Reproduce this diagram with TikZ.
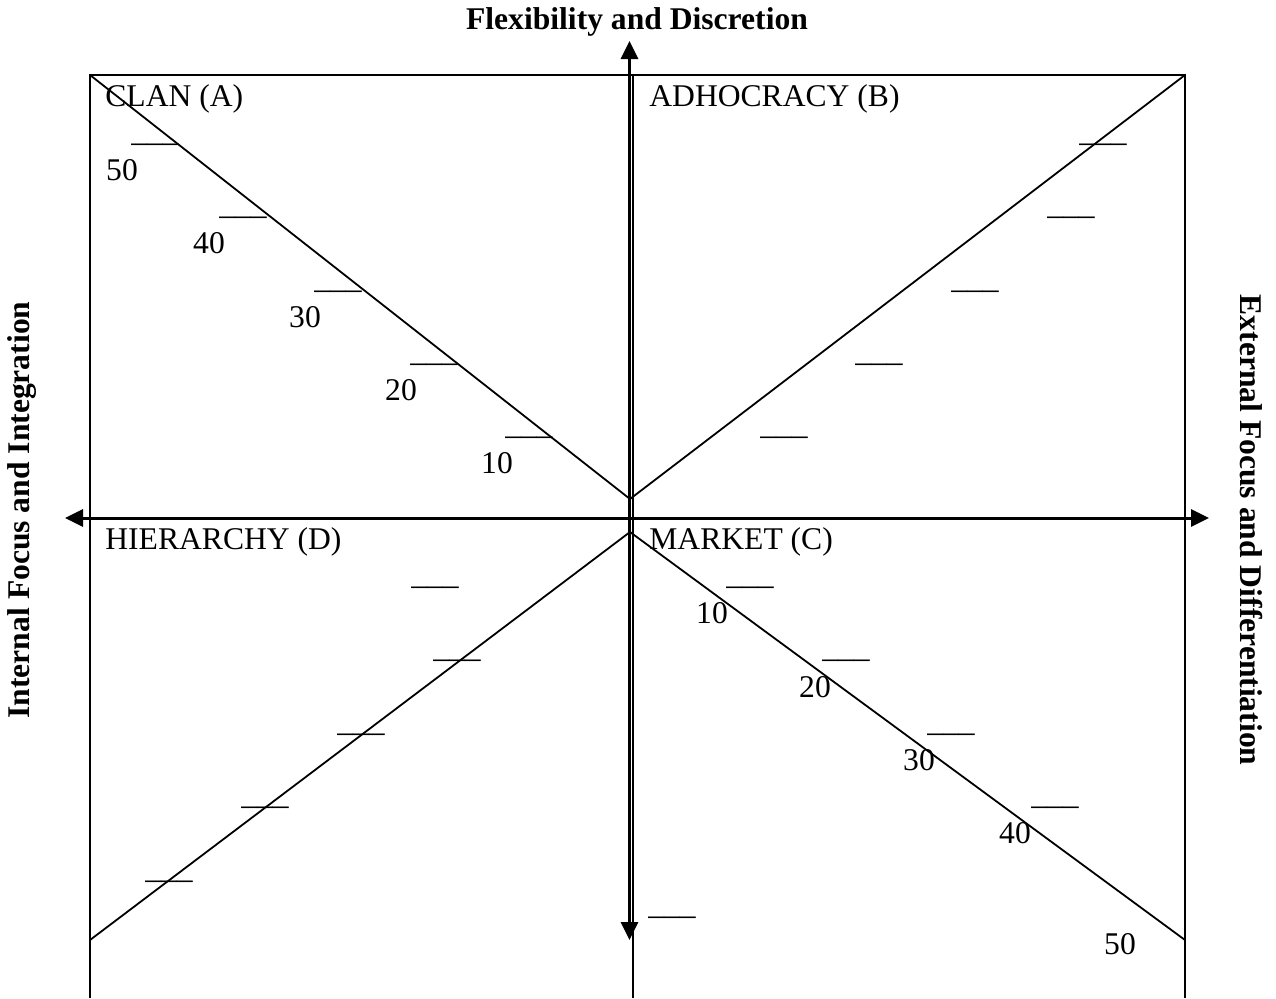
\documentclass[tikz,border=0pt]{standalone}
\usepackage{fontspec}
\setmainfont{Liberation Serif}
\usetikzlibrary{arrows.meta}
\begin{document}
\begin{tikzpicture}[x=0.5pt,y=-0.5pt,
  every node/.style={font=\fontsize{15.8}{18}\selectfont, inner sep=0pt},
  axis/.style={line width=1.5pt,{Triangle[length=9pt,width=8.5pt]}-{Triangle[length=9pt,width=8.5pt]}},
  diag/.style={line width=0.9pt},
  frame/.style={line width=0.55pt},
  blank/.style={anchor=base},
  quad/.style={anchor=west},
  title/.style={font=\fontsize{15.8}{18}\selectfont\bfseries}]
\useasboundingbox (0,0) rectangle (1276,998);

% frame
\coordinate (tl) at (90,75);
\coordinate (tm) at (633,75);
\coordinate (tr) at (1185,75);
\coordinate (bl) at (90,998);
\coordinate (bm) at (633,998);
\coordinate (br) at (1185,998);
\draw[frame] (bl) -- (tl) -- (tr) -- (br);
\draw[frame] (tm) -- (bm);

% axes
\coordinate (west) at (65,518);
\coordinate (east) at (1209,518);
\coordinate (north) at (629.5,41);
\coordinate (south) at (629.5,940);
\draw[axis] (west) -- (east);
\draw[axis] (north) -- (south);

% diagonals
\coordinate (up) at (630,499);
\coordinate (dn) at (630,532);
\coordinate (cl) at (90,75);
\coordinate (ad) at (1185,75);
\coordinate (hi) at (90,940);
\coordinate (ma) at (1185,940);
\draw[diag] (cl) -- (up) -- (ad);
\draw[diag] (hi) -- (dn) -- (ma);

% axis titles
\node[title] (flex) at (637,22) {Flexibility and Discretion};
\node[title,rotate=90] (int) at (22,510) {Internal Focus and Integration};
\node[title,rotate=-90] (ext) at (1251,530) {External Focus and Differentiation};

% quadrants
\node[quad] (clan) at (105,99) {CLAN (A)};
\node[quad] (adho) at (649,99) {ADHOCRACY (B)};
\node[quad] (hier) at (105,542) {HIERARCHY (D)};
\node[quad] (mark) at (649,542) {MARKET (C)};

% clan scale
\foreach \bx/\by/\nx/\ny/\v [count=\i] in {529/438/497/463/10, 434/365/401/390/20,
    338/292/305/317/30, 243/218/209/243/40, 155/145/122/170/50}{
  \node[blank] (cb\i) at (\bx,\by-3.5) {\_\_\_};
  \node (cn\i) at (\nx,\ny) {\v};
}

% adhocracy scale
\foreach \bx/\by [count=\i] in {784/438, 879/365, 975/292, 1071/218, 1103/145}
  \node[blank] (ab\i) at (\bx,\by-3.5) {\_\_\_};

% hierarchy scale
\foreach \bx/\by [count=\i] in {435/588, 457/661, 361/735, 265/808, 169/882}
  \node[blank] (hb\i) at (\bx,\by-3.5) {\_\_\_};

% market scale
\foreach \bx/\by/\nx/\ny/\v [count=\i] in {750/588/712/613/10, 846/661/815/687/20,
    951/735/919/760/30, 1055/808/1015/833/40}{
  \node[blank] (mb\i) at (\bx,\by-3.5) {\_\_\_};
  \node (mn\i) at (\nx,\ny) {\v};
}
\node (mn5) at (1120,944) {50};
\node[blank] (sb) at (672,918-3.5) {\_\_\_};
\end{tikzpicture}
\end{document}
